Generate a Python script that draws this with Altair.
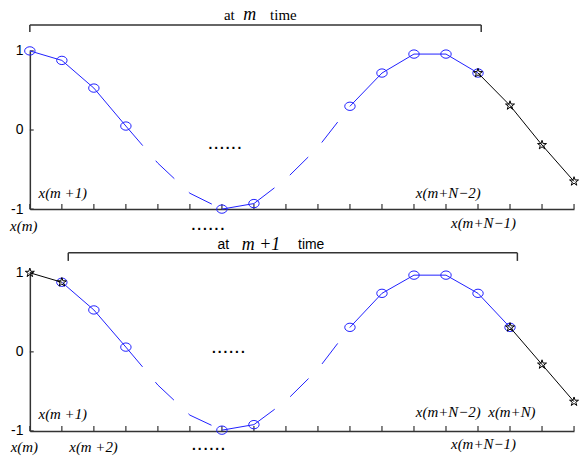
import altair as alt
import pandas as pd

# ---------------- data (sample index n, value) ----------------
top_circle_x = [0, 1, 2, 3, 6, 7, 10, 11, 12, 13, 14]
top_circle_y = [1.0, 0.88, 0.53, 0.05, -1.0, -0.93, 0.30, 0.72, 0.96, 0.96, 0.72]
top_circle_seg = ["s1", "s1", "s1", "s1", "s2", "s2", "s3", "s3", "s3", "s3", "s3"]
top_star_x = [14, 15, 16, 17]
top_star_y = [0.72, 0.31, -0.19, -0.65]
top_star_seg = ["b", "b", "b", "b"]
top_dash_x = [3, 4, 5, 6, 7, 8, 9, 10]
top_dash_y = [0.05, -0.42, -0.80, -1.0, -0.93, -0.62, -0.22, 0.30]
top_dash_seg = ["d1", "d1", "d1", "d1", "d2", "d2", "d2", "d2"]

bot_circle_x = [1, 2, 3, 6, 7, 10, 11, 12, 13, 14, 15]
bot_circle_y = [0.88, 0.53, 0.06, -0.99, -0.92, 0.31, 0.74, 0.97, 0.97, 0.74, 0.31]
bot_circle_seg = ["s1", "s1", "s1", "s2", "s2", "s3", "s3", "s3", "s3", "s3", "s3"]
bot_star_x = [0, 1, 15, 16, 17]
bot_star_y = [1.0, 0.88, 0.31, -0.16, -0.63]
bot_star_seg = ["a", "a", "b", "b", "b"]
bot_dash_x = [3, 4, 5, 6, 7, 8, 9, 10]
bot_dash_y = [0.06, -0.42, -0.80, -0.99, -0.92, -0.62, -0.22, 0.31]
bot_dash_seg = ["d1", "d1", "d1", "d1", "d2", "d2", "d2", "d2"]

tick_n = list(range(18))
ytick_vals = [-1, 0, 1]

# ---------------- annotations ----------------
top_lab_text = ["x(m +1)", "x(m)", "x(m+N\u22122)", "x(m+N\u22121)"]
top_lab_x = [1.03, -0.19, 13.07, 14.17]
top_lab_y = [-0.80, -1.214, -0.80, -1.176]
top_dots_x = [6.09, 5.56]
top_dots_y = [-0.245, -1.264]
top_title_plain = ["at", "time"]
top_title_plain_x = [6.23, 7.92]
top_title_ital = ["m"]
top_title_ital_x = [6.87]
top_title_y = 1.453
top_bracket = {"x": [0, 0, 14.1], "x2": [14.1, 0, 14.1],
               "y": [1.327, 1.327, 1.327], "y2": [1.327, 1.24, 1.24]}

bot_lab_text = ["x(m +1)", "x(m)", "x(m +2)", "x(m+N\u22122)", "x(m+N)", "x(m+N\u22121)"]
bot_lab_x = [1.03, -0.17, 1.99, 13.07, 15.06, 14.17]
bot_lab_y = [-0.78, -1.20, -1.20, -0.76, -0.76, -1.16]
bot_dots_x = [6.2, 5.58]
bot_dots_y = [-0.02, -1.239]
bot_title_plain = ["at", "time"]
bot_title_plain_x = [6.04, 8.79]
bot_title_ital = ["m +1"]
bot_title_ital_x = [7.22]
bot_title_y = 1.352
bot_bracket = {"x": [1.2, 1.2, 15.23], "x2": [15.23, 1.2, 15.23],
               "y": [1.252, 1.252, 1.252], "y2": [1.252, 1.15, 1.15]}

BLUE = "#1f1fff"
AXC = "#333333"
ELLIPSE = "M-1,0A1,0.8 0 1,0 1,0A1,0.8 0 1,0 -1,0Z"
STAR = ("M0,-1L0.223,-0.307L0.951,-0.309L0.361,0.117L0.588,0.809L0,0.38"
        "L-0.588,0.809L-0.361,0.117L-0.951,-0.309L-0.223,-0.307Z")

W, H = 547, 159

XAXIS = alt.Axis(labels=False, ticks=False, grid=False, title=None,
                 domainColor=AXC, domainWidth=1.5)
YAXIS = alt.Axis(values=ytick_vals, ticks=False, grid=False, title=None,
                 labelFont="Liberation Sans", labelFontSize=14,
                 labelColor="black", labelPadding=7, labelOverlap=False,
                 labelExpr="datum.value < 0 ? '-1' : datum.value > 0 ? '1' : '0'",
                 domainColor=AXC, domainWidth=1.5)
XSCALE = alt.Scale(domain=[0, 17], nice=False, zero=False)
YSCALE = alt.Scale(domain=[-1, 1], nice=False, zero=False)


def xs():
    return alt.X("x:Q", scale=XSCALE, axis=XAXIS)


def ys():
    return alt.Y("y:Q", scale=YSCALE, axis=YAXIS)


def panel(cx, cy, cseg, sx, sy, sseg, dx, dy, dseg,
          lab_t, lab_x, lab_y, dots_x, dots_y,
          tp, tpx, ti, tix, ty, brk, title_font, title_size, ital_size):
    circ = pd.DataFrame({"x": cx, "y": cy, "seg": cseg})
    star = pd.DataFrame({"x": sx, "y": sy, "seg": sseg})
    dash = pd.DataFrame({"x": dx, "y": dy, "seg": dseg})
    ticks = pd.DataFrame({"x": tick_n, "y": [-1.0] * len(tick_n), "y2": [-0.937] * len(tick_n)})
    yt = pd.DataFrame({"x": [0.0] * 3, "x2": [0.12] * 3, "y": ytick_vals})
    labs = pd.DataFrame({"t": lab_t, "x": lab_x, "y": lab_y})
    dots = pd.DataFrame({"t": ["......"] * len(dots_x), "x": dots_x, "y": dots_y})
    tpl = pd.DataFrame({"t": tp, "x": tpx, "y": [ty] * len(tp)})
    tit = pd.DataFrame({"t": ti, "x": tix, "y": [ty] * len(ti)})
    br = pd.DataFrame(brk)

    axes = alt.Chart(ticks).mark_rule(color=AXC, strokeWidth=1.2).encode(
        x=xs(), y=ys(), y2="y2:Q")
    yticks = alt.Chart(yt).mark_rule(color=AXC, strokeWidth=1.2).encode(
        x=xs(), x2="x2:Q", y=ys())
    dline = alt.Chart(dash).mark_line(color=BLUE, strokeWidth=1,
                                       strokeDash=[26, 20]).encode(
        x=xs(), y=ys(), detail="seg:N")
    cline = alt.Chart(circ).mark_line(color=BLUE, strokeWidth=1).encode(
        x=xs(), y=ys(), detail="seg:N")
    cpts = alt.Chart(circ).mark_point(shape=ELLIPSE, size=110, color=BLUE, filled=False,
                                       strokeWidth=1, opacity=1).encode(x=xs(), y=ys())
    sline = alt.Chart(star).mark_line(color="black", strokeWidth=1).encode(
        x=xs(), y=ys(), detail="seg:N")
    spts = alt.Chart(star).mark_point(shape=STAR, size=90, color="black", filled=False,
                                       strokeWidth=1, opacity=1).encode(x=xs(), y=ys())
    ltxt = alt.Chart(labs).mark_text(font="Liberation Serif", fontStyle="italic",
                                     fontSize=15, align="center", baseline="middle",
                                     color="black").encode(x=xs(), y=ys(), text="t:N")
    dtxt = alt.Chart(dots).mark_text(font="Liberation Sans", fontSize=21, align="center",
                                     baseline="alphabetic", color="black").encode(
        x=xs(), y=ys(), text="t:N")
    ttxt = alt.Chart(tpl).mark_text(font=title_font, fontSize=title_size, align="center",
                                    baseline="middle", color="black").encode(
        x=xs(), y=ys(), text="t:N")
    itxt = alt.Chart(tit).mark_text(font="Liberation Serif", fontStyle="italic",
                                    fontSize=ital_size, align="center", baseline="middle",
                                    color="black").encode(x=xs(), y=ys(), text="t:N")
    brl = alt.Chart(br).mark_rule(color=AXC, strokeWidth=1.5).encode(
        x=xs(), x2="x2:Q", y=ys(), y2="y2:Q")
    return alt.layer(axes, yticks, dline, cline, cpts, sline, spts,
                     ltxt, dtxt, ttxt, itxt, brl).properties(width=W, height=H)


top = panel(top_circle_x, top_circle_y, top_circle_seg, top_star_x, top_star_y, top_star_seg,
            top_dash_x, top_dash_y, top_dash_seg,
            top_lab_text, top_lab_x, top_lab_y, top_dots_x, top_dots_y,
            top_title_plain, top_title_plain_x, top_title_ital, top_title_ital_x,
            top_title_y, top_bracket, "Liberation Serif", 15, 18)
bot = panel(bot_circle_x, bot_circle_y, bot_circle_seg, bot_star_x, bot_star_y, bot_star_seg,
            bot_dash_x, bot_dash_y, bot_dash_seg,
            bot_lab_text, bot_lab_x, bot_lab_y, bot_dots_x, bot_dots_y,
            bot_title_plain, bot_title_plain_x, bot_title_ital, bot_title_ital_x,
            bot_title_y, bot_bracket, "Liberation Sans", 14, 18)

chart = alt.vconcat(top, bot, spacing=64, bounds="flush").properties(
    padding={"left": 10, "top": 4, "right": 0, "bottom": 0},
    background="white",
).configure_view(stroke=None)

chart.save("out.html", embed_options={"renderer": "svg", "actions": False})
